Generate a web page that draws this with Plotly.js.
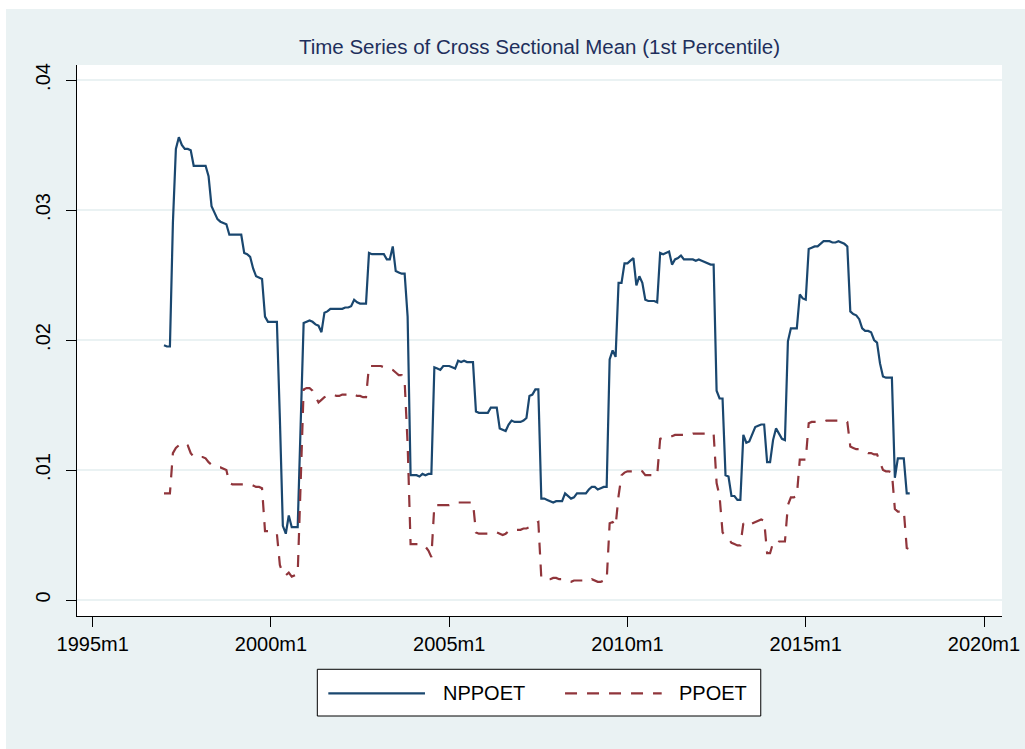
<!DOCTYPE html>
<html>
<head>
<meta charset="utf-8">
<script src="https://cdn.plot.ly/plotly-3.0.1.min.js"></script>
<style>
html, body { margin: 0; padding: 0; background: #ffffff; width: 1025px; height: 749px; overflow: hidden; }
#chart { position: absolute; left: 6px; top: 9px; width: 1019px; height: 740px; }
</style>
</head>
<body>
<div id="chart"></div>
<script>
// Monthly series, 1997m1 .. 2017m12 (one row per year)
const startYear = 1997;
const startMonth = 1;

const NPPOET = [
  0.0196,0.0195,0.0195,0.0290,0.0347,0.0356,0.0350,0.0347,0.0347,0.0346,0.0334,0.0334,
  0.0334,0.0334,0.0334,0.0326,0.0303,0.0298,0.0293,0.0291,0.0290,0.0289,0.0281,0.0281,
  0.0281,0.0281,0.0281,0.0267,0.0266,0.0264,0.0255,0.0249,0.0248,0.0247,0.0218,0.0214,
  0.0214,0.0214,0.0214,0.0140,0.0057,0.0051,0.0065,0.0056,0.0056,0.0056,0.0135,0.0213,
  0.0214,0.0215,0.0214,0.0212,0.0211,0.0206,0.0221,0.0222,0.0224,0.0224,0.0224,0.0224,
  0.0224,0.0225,0.0225,0.0226,0.0231,0.0229,0.0228,0.0228,0.0228,0.0267,0.0266,0.0266,
  0.0266,0.0266,0.0266,0.0262,0.0262,0.0272,0.0253,0.0252,0.0251,0.0251,0.0218,0.0096,
  0.0096,0.0096,0.0095,0.0097,0.0096,0.0097,0.0097,0.0179,0.0178,0.0177,0.0180,0.0180,
  0.0180,0.0179,0.0178,0.0184,0.0183,0.0184,0.0183,0.0183,0.0183,0.0145,0.0144,0.0144,
  0.0144,0.0144,0.0148,0.0148,0.0148,0.0132,0.0131,0.0130,0.0135,0.0138,0.0137,0.0137,
  0.0137,0.0138,0.0140,0.0157,0.0158,0.0162,0.0162,0.0078,0.0078,0.0077,0.0076,0.0075,
  0.0076,0.0076,0.0076,0.0082,0.0080,0.0078,0.0079,0.0082,0.0082,0.0082,0.0082,0.0085,
  0.0087,0.0087,0.0085,0.0086,0.0087,0.0087,0.0185,0.0192,0.0187,0.0244,0.0244,0.0259,
  0.0259,0.0261,0.0263,0.0242,0.0249,0.0244,0.0231,0.0230,0.0230,0.0230,0.0229,0.0267,
  0.0266,0.0267,0.0268,0.0258,0.0262,0.0263,0.0265,0.0262,0.0262,0.0262,0.0262,0.0261,
  0.0262,0.0261,0.0260,0.0259,0.0258,0.0258,0.0161,0.0155,0.0155,0.0096,0.0095,0.0080,
  0.0080,0.0077,0.0077,0.0127,0.0121,0.0122,0.0128,0.0133,0.0134,0.0135,0.0135,0.0106,
  0.0106,0.0123,0.0132,0.0128,0.0124,0.0123,0.0199,0.0209,0.0209,0.0209,0.0235,0.0232,
  0.0231,0.0270,0.0271,0.0272,0.0272,0.0274,0.0276,0.0276,0.0276,0.0275,0.0275,0.0276,
  0.0275,0.0274,0.0272,0.0222,0.0220,0.0219,0.0216,0.0209,0.0207,0.0207,0.0206,0.0200,
  0.0198,0.0182,0.0172,0.0171,0.0171,0.0171,0.0094,0.0109,0.0109,0.0109,0.0082,0.0082
];

const PPOET = [
  0.0082,0.0082,0.0082,0.0113,0.0117,0.0119,0.0120,0.0121,0.0119,0.0113,0.0110,0.0110,
  0.0110,0.0110,0.0109,0.0106,0.0104,0.0103,0.0102,0.0102,0.0101,0.0100,0.0090,0.0089,
  0.0089,0.0089,0.0089,0.0089,0.0089,0.0089,0.0088,0.0087,0.0087,0.0086,0.0053,0.0053,
  0.0053,0.0052,0.0051,0.0027,0.0020,0.0019,0.0021,0.0018,0.0019,0.0020,0.0090,0.0162,
  0.0163,0.0163,0.0161,0.0156,0.0152,0.0154,0.0156,0.0157,0.0158,0.0158,0.0157,0.0157,
  0.0158,0.0158,0.0158,0.0159,0.0158,0.0157,0.0157,0.0156,0.0156,0.0180,0.0180,0.0180,
  0.0180,0.0180,0.0179,0.0178,0.0178,0.0177,0.0175,0.0173,0.0173,0.0168,0.0120,0.0043,
  0.0043,0.0043,0.0043,0.0043,0.0041,0.0038,0.0033,0.0073,0.0073,0.0073,0.0073,0.0073,
  0.0073,0.0074,0.0074,0.0075,0.0075,0.0075,0.0075,0.0075,0.0075,0.0052,0.0051,0.0051,
  0.0051,0.0051,0.0051,0.0051,0.0052,0.0051,0.0050,0.0051,0.0053,0.0054,0.0054,0.0054,
  0.0054,0.0055,0.0055,0.0056,0.0057,0.0059,0.0060,0.0017,0.0016,0.0016,0.0016,0.0017,
  0.0017,0.0016,0.0016,0.0015,0.0014,0.0014,0.0015,0.0015,0.0015,0.0015,0.0016,0.0015,
  0.0016,0.0015,0.0014,0.0014,0.0015,0.0015,0.0059,0.0060,0.0057,0.0080,0.0096,0.0098,
  0.0099,0.0099,0.0099,0.0100,0.0100,0.0099,0.0096,0.0096,0.0096,0.0096,0.0096,0.0124,
  0.0125,0.0125,0.0126,0.0126,0.0127,0.0127,0.0127,0.0127,0.0127,0.0127,0.0128,0.0128,
  0.0128,0.0128,0.0128,0.0128,0.0128,0.0128,0.0090,0.0080,0.0052,0.0049,0.0047,0.0044,
  0.0043,0.0042,0.0042,0.0059,0.0057,0.0058,0.0059,0.0060,0.0061,0.0062,0.0061,0.0036,
  0.0036,0.0044,0.0043,0.0045,0.0045,0.0045,0.0073,0.0079,0.0079,0.0080,0.0108,0.0108,
  0.0108,0.0136,0.0137,0.0137,0.0137,0.0137,0.0137,0.0138,0.0138,0.0138,0.0138,0.0138,
  0.0138,0.0138,0.0137,0.0118,0.0117,0.0116,0.0116,0.0115,0.0114,0.0113,0.0113,0.0112,
  0.0112,0.0106,0.0100,0.0099,0.0099,0.0098,0.0070,0.0068,0.0068,0.0069,0.0040,0.0039
];

const xTickVals = [1995, 2000, 2005, 2010, 2015, 2020];
const xTickText = ["1995m1", "2000m1", "2005m1", "2010m1", "2015m1", "2020m1"];
const yTickVals = [0, 0.01, 0.02, 0.03, 0.04];
const yTickText = ["0", ".01", ".02", ".03", ".04"];
const seriesNames = ["NPPOET", "PPOET"];
const chartTitle = "Time Series of Cross Sectional Mean (1st Percentile)";

// time axis: fractional years, one point per month
const months = NPPOET.map((_, i) => startYear + (startMonth - 1 + i) / 12);

const NAVY = "#1a476f";
const MAROON = "#90353b";
const BG = "#eaf2f3";
const FONT = "Liberation Sans, Arial, Helvetica, sans-serif";

const traces = [
  { x: months, y: NPPOET, name: seriesNames[0], type: "scatter", mode: "lines",
    line: { color: NAVY, width: 2.2 } },
  { x: months, y: PPOET, name: seriesNames[1], type: "scatter", mode: "lines",
    line: { color: MAROON, width: 2.2, dash: "12px,10px" } }
];

const layout = {
  width: 1019, height: 740,
  margin: { l: 71, r: 23, t: 56, b: 133, pad: 0 },
  paper_bgcolor: BG,
  plot_bgcolor: "#ffffff",
  font: { family: FONT, size: 20, color: "#000000" },
  showlegend: false,
  title: { text: chartTitle, font: { family: FONT, size: 20.5, color: "#1e2f5c" },
           x: 0.5, xref: "paper", y: 1 - 37.5 / 740, yref: "container", yanchor: "middle" },
  xaxis: {
    range: [1994.56, 2020.505],
    tickmode: "array", tickvals: xTickVals, ticktext: xTickText,
    ticks: "outside", ticklen: 10, tickwidth: 1, tickcolor: "#000000",
    showline: true, linecolor: "#000000", linewidth: 1,
    showgrid: false, zeroline: false,
    tickfont: { family: FONT, size: 20, color: "#000000" }
  },
  yaxis: {
    range: [-0.001231, 0.041154],
    tickmode: "array", tickvals: yTickVals, ticktext: yTickText,
    tickangle: -90,
    ticks: "outside", ticklen: 10, tickwidth: 1, tickcolor: "#000000",
    showline: true, linecolor: "#000000", linewidth: 1,
    showgrid: true, gridcolor: BG, gridwidth: 2,
    zeroline: false,
    ticklabelstandoff: 8,
    tickfont: { family: FONT, size: 20, color: "#000000" }
  },
  shapes: [
    { type: "rect", xref: "paper", yref: "paper", x0: 0.2598, x1: 0.7392, y0: -0.1815, y1: -0.0967,
      fillcolor: "#ffffff", line: { color: "#000000", width: 1 } },
    { type: "line", xref: "paper", yref: "paper", x0: 0.2717, x1: 0.3762, y0: -0.1403, y1: -0.1403,
      line: { color: NAVY, width: 2.2 } },
    { type: "line", xref: "paper", yref: "paper", x0: 0.5276, x1: 0.6321, y0: -0.1403, y1: -0.1403,
      line: { color: MAROON, width: 2.2, dash: "12px,10px" } }
  ],
  annotations: [
    { text: seriesNames[0], xref: "paper", yref: "paper", x: 0.3932, y: -0.1403,
      xanchor: "left", yanchor: "middle", showarrow: false,
      font: { family: FONT, size: 20, color: "#000000" } },
    { text: seriesNames[1], xref: "paper", yref: "paper", x: 0.6483, y: -0.1403,
      xanchor: "left", yanchor: "middle", showarrow: false,
      font: { family: FONT, size: 20, color: "#000000" } }
  ]
};

Plotly.newPlot("chart", traces, layout, { displayModeBar: false, responsive: false, staticPlot: true });
</script>
</body>
</html>
